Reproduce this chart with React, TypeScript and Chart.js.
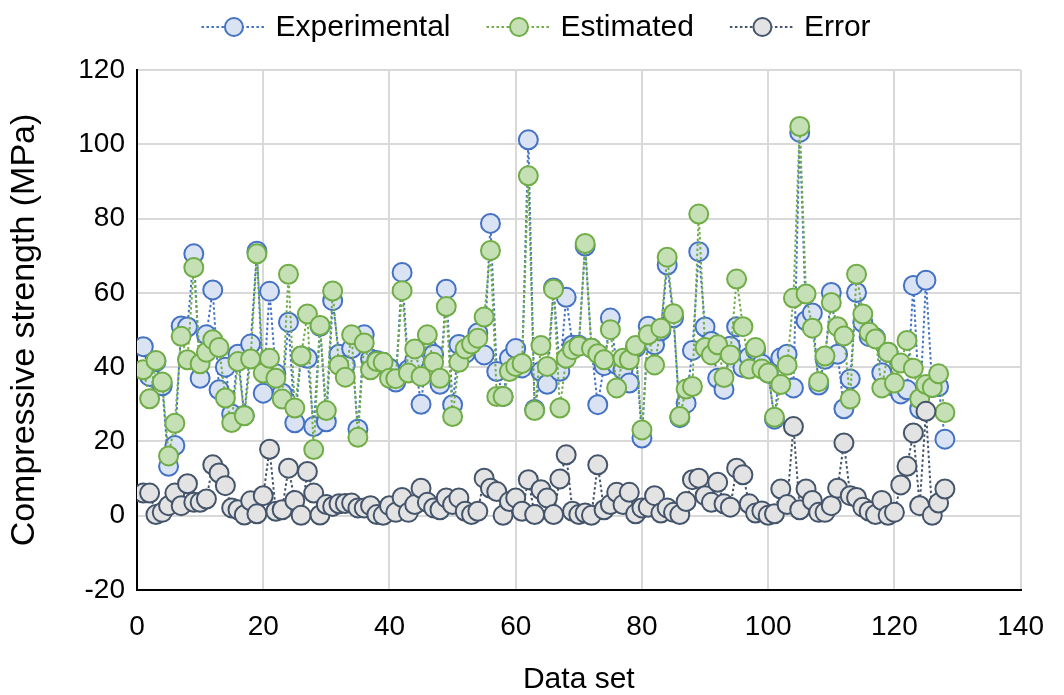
import React, { useEffect, useRef } from 'react';
import { Chart, registerables } from 'chart.js';

Chart.register(...registerables);

const FONT = '"Liberation Sans", Arial, Helvetica, sans-serif';

const experimental = [
  45.5, 37.5, 41.5, 35, 13.3, 18.9, 51.1, 50.8, 70.5, 37,
  48.7, 60.8, 33.9, 40, 27.4, 43.5, 27, 46.2, 71.2, 33,
  60.4, 38.2, 33, 52.1, 25, 43, 42.4, 24, 51, 25.3,
  57.9, 43.5, 40.6, 45, 23.3, 48.7, 42.2, 41.8, 41.3, 39.7,
  36, 65.5, 39.3, 41.9, 30, 45.1, 43.4, 35.4, 61, 29.9,
  46.1, 43.7, 46, 49.2, 43.3, 78.7, 38.8, 32.1, 42.4, 45,
  39.8, 101.2, 28.6, 38.8, 35.4, 61.3, 38.9, 58.8, 45.9, 45.9,
  72.6, 45.1, 29.9, 40.4, 53.2, 40.7, 39.3, 35.7, 45.3, 20.9,
  51, 46, 49.8, 67.5, 53.3, 26.4, 30.3, 44.5, 71.1, 50.8,
  46.9, 37, 34, 45.6, 50.9, 39.9, 42.7, 44.6, 40.8, 38.4,
  26, 42.5, 43.5, 34.4, 103.2, 52.5, 54.6, 35.2, 42.1, 60.1,
  43.5, 28.8, 36.8, 60.1, 52, 48.2, 47.9, 38.5, 44, 34.8,
  32.8, 33.9, 62, 28.8, 63.4, 34.5, 34.8, 20.6,
];

const estimated = [
  39.3, 31.5, 41.8, 36, 16.1, 24.9, 48.3, 42, 66.8, 40.9,
  44, 47.4, 45.3, 31.7, 25.1, 41.5, 26.9, 42.2, 70.5, 38.4,
  42.4, 37, 31.4, 65, 29, 43, 54.3, 17.8, 51.2, 28.3,
  60.5, 40.5, 37.3, 48.7, 21.1, 46.5, 39.3, 41.5, 41.3, 37,
  36.9, 60.6, 38.4, 44.9, 37.5, 48.7, 41.3, 37, 56.3, 26.7,
  41.3, 44.9, 46.2, 47.8, 53.5, 71.4, 32.1, 32.1, 38.8, 40.2,
  41, 91.5, 28.3, 45.8, 40.2, 61, 29, 42.4, 44.7, 45.6,
  73.3, 45.1, 43.6, 42, 50.1, 34.4, 42.4, 42, 45.8, 23.1,
  48.7, 40.6, 50.5, 69.6, 54.4, 26.7, 34.1, 34.8, 81.2, 45.3,
  43.3, 46, 37.2, 43.3, 63.7, 50.9, 39.5, 45.3, 39.5, 38.4,
  26.5, 35.3, 40.5, 58.6, 104.8, 59.7, 50.5, 36.1, 43, 57.4,
  50.9, 48.4, 31.4, 65, 54.3, 49.4, 47.6, 34.4, 44, 35.7,
  41.1, 47.2, 39.7, 31.5, 35.3, 34.5, 38.2, 27.8,
];

const errorVals = [
  6.1, 6.1, 0.3, 0.9, 2.7, 6.1, 2.7, 8.6, 3.6, 3.6,
  4.5, 13.7, 11.5, 8.1, 2.1, 1.6, 0.2, 4.0, 0.5, 5.4,
  17.9, 1.2, 1.6, 12.8, 4.1, 0.1, 11.9, 6.1, 0.2, 3.0,
  2.5, 3.2, 3.3, 3.4, 2.1, 2.1, 2.7, 0.3, 0.1, 2.7,
  0.9, 4.9, 0.9, 3.0, 7.4, 3.6, 2.1, 1.6, 4.8, 3.0,
  4.8, 1.2, 0.3, 1.2, 10.1, 7.4, 6.5, 0.1, 3.8, 4.8,
  1.2, 9.7, 0.3, 7.0, 4.8, 0.3, 9.9, 16.4, 1.2, 0.3,
  0.7, 0.1, 13.7, 1.6, 3.0, 6.3, 3.0, 6.3, 0.5, 2.1,
  2.3, 5.4, 0.7, 2.1, 0.9, 0.3, 3.8, 9.7, 10.1, 5.4,
  3.6, 9.0, 3.2, 2.3, 12.8, 11.0, 3.2, 0.7, 1.3, 0.1,
  0.5, 7.2, 3.0, 24.0, 1.6, 7.2, 4.1, 0.9, 0.9, 2.7,
  7.4, 19.6, 5.4, 4.9, 2.3, 1.2, 0.3, 4.1, 0.1, 0.9,
  8.3, 13.3, 22.3, 2.7, 28.1, 0.1, 3.4, 7.2,
];

const dataSetIds = Array.from({ length: experimental.length }, (_, i) => i + 1);

const seriesLabels = ['Experimental', 'Estimated', 'Error'];
const xTitle = 'Data set';
const yTitle = 'Compressive strength (MPa)';

const legendPlugin = {
  id: 'customLegend',
  afterDraw(chart: any) {
    const ctx = chart.ctx;
    ctx.save();
    ctx.font = `30px ${FONT}`;
    const symW = 65;
    const gap = 9;
    const itemGap = 36;
    const items = chart.data.datasets.map((ds: any) => ({ ds, w: ctx.measureText(ds.label).width }));
    const total = items.reduce((s: number, it: any) => s + symW + gap + it.w, 0) + itemGap * (items.length - 1);
    let x = (chart.width - total) / 2 + 4;
    const y = 27;
    items.forEach((it: any) => {
      const ds = it.ds;
      ctx.strokeStyle = ds.borderColor;
      ctx.lineWidth = 2;
      ctx.setLineDash([2.5, 2.5]);
      ctx.beginPath();
      ctx.moveTo(x, y);
      ctx.lineTo(x + symW, y);
      ctx.stroke();
      ctx.setLineDash([]);
      ctx.beginPath();
      ctx.arc(x + symW / 2, y, 9, 0, Math.PI * 2);
      ctx.fillStyle = ds.pointBackgroundColor;
      ctx.fill();
      ctx.strokeStyle = ds.pointBorderColor;
      ctx.lineWidth = 2;
      ctx.stroke();
      ctx.fillStyle = '#000';
      ctx.textAlign = 'left';
      ctx.textBaseline = 'middle';
      ctx.fillText(ds.label, x + symW + gap, y + 1);
      x += symW + gap + it.w + itemGap;
    });
    ctx.restore();
  },
};

function makeSeries(label: string, values: number[], line: string, fill: string, order: number) {
  return {
    label,
    data: values.map((v, i) => ({ x: dataSetIds[i], y: v })),
    borderColor: line,
    borderWidth: 2,
    borderDash: [2.5, 2.5],
    pointRadius: 9.5,
    pointBorderWidth: 2,
    pointBackgroundColor: fill,
    pointBorderColor: line,
    tension: 0,
    fill: false,
    order,
  };
}

export default function App() {
  const ref = useRef<HTMLCanvasElement | null>(null);

  useEffect(() => {
    if (!ref.current) return;
    const chart = new Chart(ref.current, {
      type: 'line',
      data: {
        datasets: [
          makeSeries(seriesLabels[0], experimental, '#4472C4', '#DAE3F3', 3),
          makeSeries(seriesLabels[1], estimated, '#70AD47', '#C5E0B4', 2),
          makeSeries(seriesLabels[2], errorVals, '#44546A', '#E3E3E3', 1),
        ] as any,
      },
      options: {
        animation: false,
        responsive: false,
        maintainAspectRatio: false,
        layout: { padding: { top: 70, left: 0, right: 35, bottom: 0 } },
        plugins: { legend: { display: false }, tooltip: { enabled: false } },
        scales: {
          x: {
            type: 'linear',
            min: 0,
            max: 140,
            ticks: { stepSize: 20, padding: 20, color: '#000', font: { size: 28, family: FONT } },
            grid: { color: '#D9D9D9', lineWidth: 2, drawTicks: false },
            border: { color: '#000', width: 2 },
            title: {
              display: true,
              text: xTitle,
              color: '#000',
              font: { size: 30, family: FONT, lineHeight: 1 },
              padding: { top: 0, bottom: 0 },
            },
            afterFit(scale: any) {
              scale.height = 105;
            },
          },
          y: {
            type: 'linear',
            min: -20,
            max: 120,
            ticks: { stepSize: 20, padding: 12, color: '#000', font: { size: 28, family: FONT } },
            grid: { color: '#D9D9D9', lineWidth: 2, drawTicks: false },
            border: { color: '#000', width: 2 },
            title: {
              display: true,
              text: yTitle,
              color: '#000',
              font: { size: 34, family: FONT, lineHeight: 1.2 },
              padding: { top: 4, bottom: 0 },
            },
            afterFit(scale: any) {
              scale.width = 137;
            },
          },
        },
      } as any,
      plugins: [legendPlugin],
    });
    return () => chart.destroy();
  }, []);

  return (
    <div style={{ position: 'fixed', left: 0, top: 0, width: 1064, height: 695, background: '#fff' }}>
      <canvas ref={ref} width={1064} height={695} style={{ display: 'block', width: 1064, height: 695 }} />
    </div>
  );
}
